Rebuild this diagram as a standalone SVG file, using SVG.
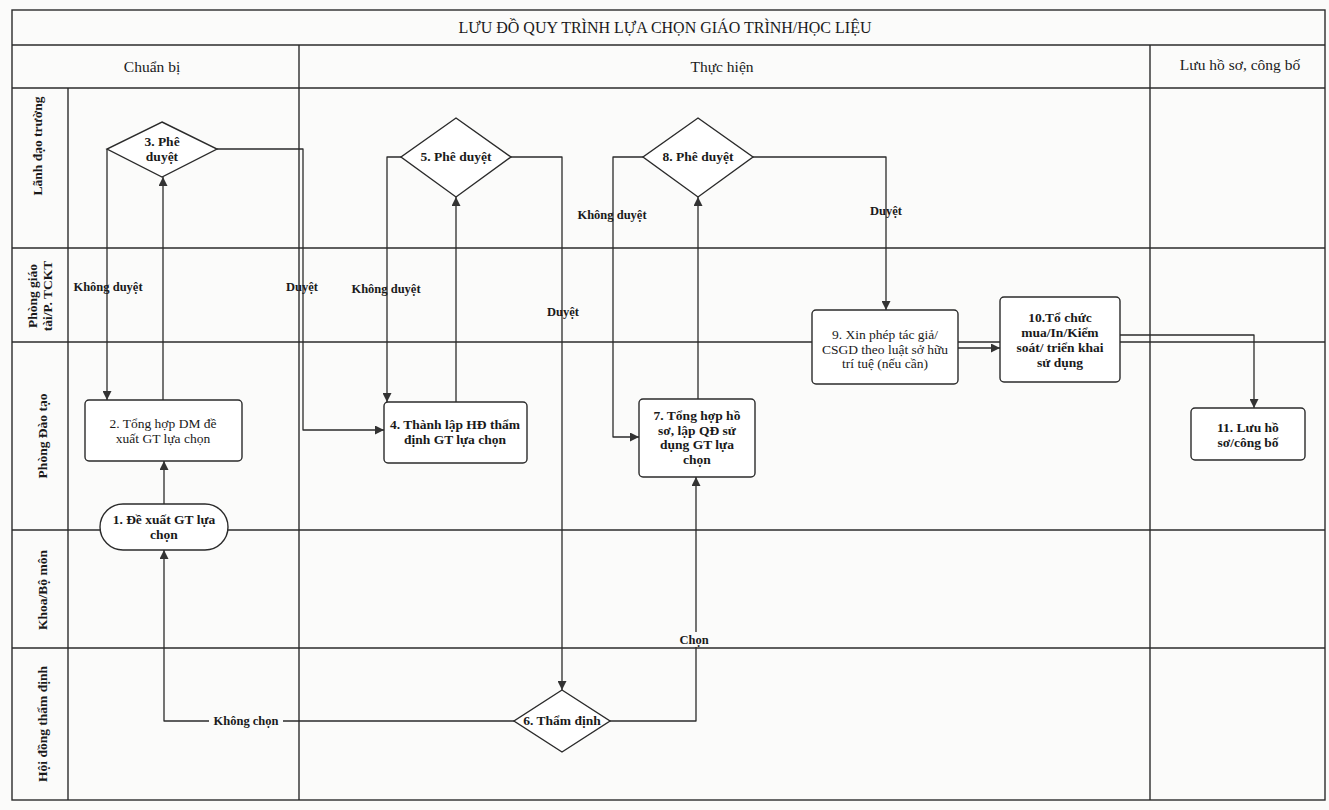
<svg xmlns="http://www.w3.org/2000/svg" width="1329" height="810" viewBox="0 0 1329 810">
<defs>
<style>
.bg{fill:#fbfbfa}
.grid{stroke:#2b2b2b;stroke-width:1.4;fill:none}
.node{fill:#ffffff;stroke:#2b2b2b;stroke-width:1.4}
.conn{stroke:#2b2b2b;stroke-width:1.3;fill:none;stroke-linejoin:round}
.t{font-family:"Liberation Serif","DejaVu Serif",serif;fill:#1a1a1a;text-anchor:middle}
.title{font-size:16px}
.hdr{font-size:15.5px}
.lane{font-size:13.5px;font-weight:bold}
.nt{font-size:13.5px;font-weight:bold}
.nr{font-weight:normal}
.lbl{font-size:12.5px;font-weight:bold}
.lblbg{fill:#fbfbfa}
</style>
<marker id="ah" viewBox="0 0 10 10" refX="10" refY="5" markerWidth="9" markerHeight="9" markerUnits="userSpaceOnUse" orient="auto">
<path d="M0,0 L10,5 L0,10 z" fill="#333"/>
</marker>
</defs>
<rect class="bg" x="0" y="0" width="1329" height="810"/>

<g id="frame">
<rect class="grid" x="12" y="10" width="1313" height="790"/>
<line class="grid" x1="12" y1="45" x2="1325" y2="45"/>
<line class="grid" x1="12" y1="88" x2="1325" y2="88"/>
<line class="grid" x1="68" y1="88" x2="68" y2="800"/>
<line class="grid" x1="299" y1="45" x2="299" y2="800"/>
<line class="grid" x1="1150" y1="45" x2="1150" y2="800"/>
<line class="grid" x1="12" y1="248" x2="1325" y2="248"/>
<line class="grid" x1="12" y1="342" x2="1325" y2="342"/>
<line class="grid" x1="12" y1="530" x2="1325" y2="530"/>
<line class="grid" x1="12" y1="648" x2="1325" y2="648"/>
<text class="t title" x="665" y="33">LƯU ĐỒ QUY TRÌNH LỰA CHỌN GIÁO TRÌNH/HỌC LIỆU</text>
<text class="t hdr" x="152" y="72">Chuẩn bị</text>
<text class="t hdr" x="722" y="72">Thực hiện</text>
<text class="t hdr" x="1240" y="70">Lưu hồ sơ, công bố</text>
</g>

<g id="lanes">
<text class="t lane" transform="translate(42,146) rotate(-90)">Lãnh đạo trường</text>
<text class="t lane" transform="translate(37,296) rotate(-90)">Phòng giáo</text>
<text class="t lane" transform="translate(52,296) rotate(-90)">tài/P. TCKT</text>
<text class="t lane" transform="translate(47,436) rotate(-90)">Phòng Đào tạo</text>
<text class="t lane" transform="translate(47,590) rotate(-90)">Khoa/Bộ môn</text>
<text class="t lane" transform="translate(47,724) rotate(-90)">Hội đồng thẩm định</text>
</g>

<g id="connectors">
<path class="conn" d="M164,504 V461" marker-end="url(#ah)"/>
<path class="conn" d="M163,400 V177" marker-end="url(#ah)"/>
<path class="conn" d="M107,149 V400" marker-end="url(#ah)"/>
<path class="conn" d="M217,149 H303 V430 H384" marker-end="url(#ah)"/>
<path class="conn" d="M456,402 V197" marker-end="url(#ah)"/>
<path class="conn" d="M401,157 H387 V402" marker-end="url(#ah)"/>
<path class="conn" d="M511,157 H562 V690" marker-end="url(#ah)"/>
<path class="conn" d="M514,721 H164 V550" marker-end="url(#ah)"/>
<path class="conn" d="M610,721 H696 V477" marker-end="url(#ah)"/>
<path class="conn" d="M698,399 V197" marker-end="url(#ah)"/>
<path class="conn" d="M643,157 H613 V437 H639" marker-end="url(#ah)"/>
<path class="conn" d="M753,157 H886 V310" marker-end="url(#ah)"/>
<path class="conn" d="M958,348 H1000" marker-end="url(#ah)"/>
<path class="conn" d="M1120,335 H1254 V408" marker-end="url(#ah)"/>
<text class="t lbl" x="108" y="291">Không duyệt</text>
<text class="t lbl" x="302" y="291">Duyệt</text>
<text class="t lbl" x="386" y="293">Không duyệt</text>
<text class="t lbl" x="563" y="316">Duyệt</text>
<text class="t lbl" x="612" y="219">Không duyệt</text>
<text class="t lbl" x="886" y="215">Duyệt</text>
<rect class="lblbg" x="209" y="713" width="74" height="15"/>
<text class="t lbl" x="246" y="725">Không  chọn</text>
<rect class="lblbg" x="676" y="632" width="36" height="15"/>
<text class="t lbl" x="694" y="644">Chọn</text>
</g>

<g id="n1">
<rect class="node" x="100" y="504" width="128" height="46" rx="23"/>
<text class="t nt" x="164" y="524">1. Đề xuất GT lựa</text>
<text class="t nt" x="164" y="539">chọn</text>
</g>
<g id="n2">
<rect class="node" x="85" y="400" width="157" height="61" rx="4"/>
<text class="t nt nr" x="163" y="428">2. Tổng hợp  DM  đề</text>
<text class="t nt nr" x="163" y="443">xuất GT lựa chọn</text>
</g>
<g id="n3">
<polygon class="node" points="162,122 217,149 162,177 107,149"/>
<text class="t nt" x="162" y="146">3. Phê</text>
<text class="t nt" x="162" y="161">duyệt</text>
</g>
<g id="n4">
<rect class="node" x="384" y="402" width="143" height="61" rx="4"/>
<text class="t nt" x="455" y="429">4. Thành lập HĐ thẩm</text>
<text class="t nt" x="455" y="444">định GT lựa chọn</text>
</g>
<g id="n5">
<polygon class="node" points="456,118 511,157 456,197 401,157"/>
<text class="t nt" x="456" y="161">5. Phê duyệt</text>
</g>
<g id="n6">
<polygon class="node" points="562,690 610,721 562,752 514,721"/>
<text class="t nt" x="562" y="725">6. Thẩm định</text>
</g>
<g id="n7">
<rect class="node" x="639" y="399" width="116" height="78" rx="4"/>
<text class="t nt" x="697" y="420">7. Tổng hợp hồ</text>
<text class="t nt" x="697" y="434.5">sơ, lập QĐ sử</text>
<text class="t nt" x="697" y="449">dụng GT lựa</text>
<text class="t nt" x="697" y="463.5">chọn</text>
</g>
<g id="n8">
<polygon class="node" points="698,118 753,157 698,197 643,157"/>
<text class="t nt" x="698" y="161">8. Phê duyệt</text>
</g>
<g id="n9">
<rect class="node" x="812" y="310" width="146" height="74" rx="4"/>
<text class="t nt nr" x="885" y="339">9. Xin phép tác giả/</text>
<text class="t nt nr" x="885" y="353.5">CSGD theo luật sở hữu</text>
<text class="t nt nr" x="885" y="368">trí tuệ (nếu cần)</text>
</g>
<g id="n10">
<rect class="node" x="1000" y="297" width="120" height="85" rx="4"/>
<text class="t nt" x="1060" y="322">10.Tổ chức</text>
<text class="t nt" x="1060" y="337">mua/In/Kiểm</text>
<text class="t nt" x="1060" y="352">soát/ triển khai</text>
<text class="t nt" x="1060" y="367">sử dụng</text>
</g>
<g id="n11">
<rect class="node" x="1191" y="408" width="114" height="52" rx="4"/>
<text class="t nt" x="1248" y="432">11. Lưu hồ</text>
<text class="t nt" x="1248" y="447">sơ/công bố</text>
</g>
</svg>
